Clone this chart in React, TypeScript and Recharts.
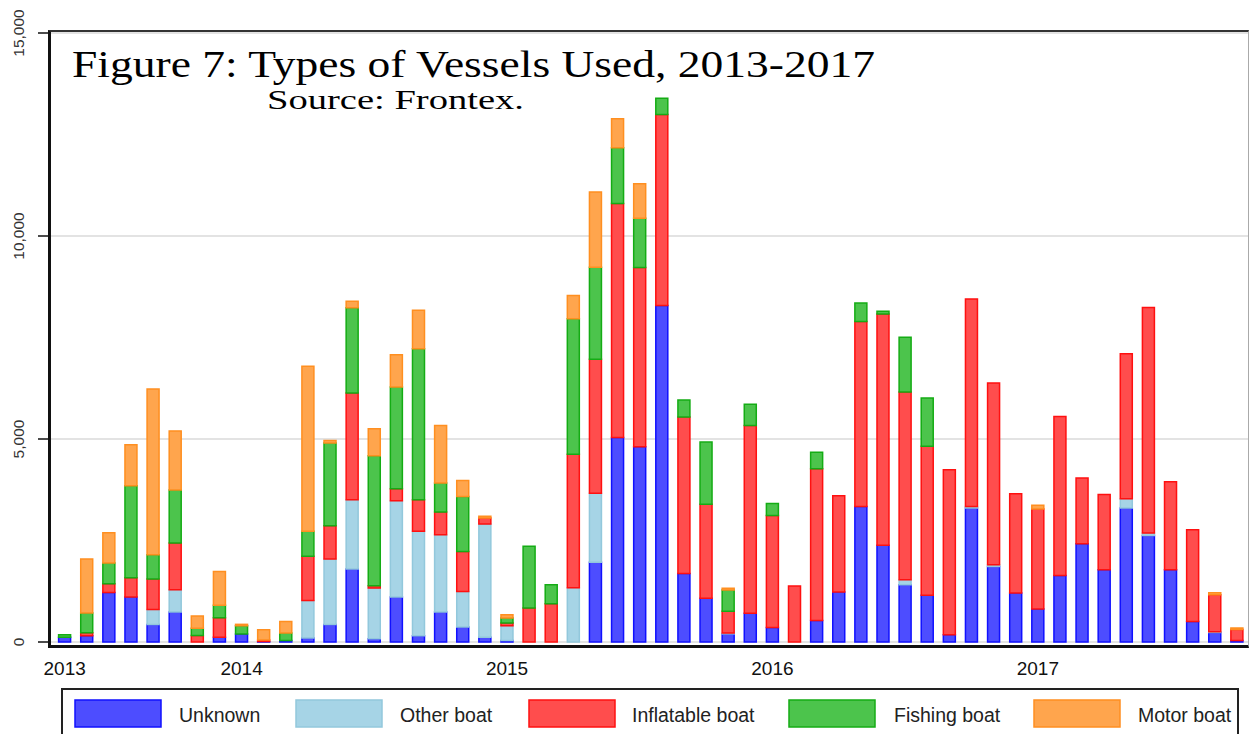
import { BarChart, Bar, XAxis, YAxis, CartesianGrid } from 'recharts'

// monthly observations, May 2013 - Oct 2017
const months = [
  '2013-05', '2013-06', '2013-07', '2013-08', '2013-09', '2013-10', '2013-11', '2013-12',
  '2014-01', '2014-02', '2014-03', '2014-04', '2014-05', '2014-06', '2014-07', '2014-08', '2014-09', '2014-10', '2014-11', '2014-12',
  '2015-01', '2015-02', '2015-03', '2015-04', '2015-05', '2015-06', '2015-07', '2015-08', '2015-09', '2015-10', '2015-11', '2015-12',
  '2016-01', '2016-02', '2016-03', '2016-04', '2016-05', '2016-06', '2016-07', '2016-08', '2016-09', '2016-10', '2016-11', '2016-12',
  '2017-01', '2017-02', '2017-03', '2017-04', '2017-05', '2017-06', '2017-07', '2017-08', '2017-09', '2017-10',
]

const yearLabels: Record<string, string> = {
  '2013-05': '2013',
  '2014-01': '2014',
  '2015-01': '2015',
  '2016-01': '2016',
  '2017-01': '2017',
}

const unknown = [
  120, 155, 1220, 1110, 430, 740, 0, 120,
  200, 10, 40, 100, 430, 1800, 80, 1110, 155, 740, 370, 120,
  40, 0, 0, 0, 1965, 5040, 4810, 8290, 1690, 1075, 200, 710,
  360, 0, 530, 1230, 3340, 2380, 1410, 1150, 180, 3300, 1860, 1205,
  815, 1640, 2420, 1780, 3300, 2625, 1780, 505, 235, 40,
]

const otherBoat = [
  0, 0, 0, 0, 370, 550, 0, 0,
  0, 0, 0, 925, 1615, 1705, 1250, 2370, 2570, 1900, 875, 2785,
  360, 0, 0, 1335, 1700, 0, 0, 0, 0, 0, 20, 0,
  0, 0, 0, 0, 0, 0, 125, 0, 0, 40, 40, 0,
  0, 0, 0, 0, 230, 60, 0, 0, 15, 0,
]

const inflatable = [
  0, 70, 215, 470, 750, 1150, 160, 480,
  0, 40, 0, 1085, 820, 2630, 55, 295, 780, 560, 985, 150,
  70, 840, 940, 3290, 3300, 5760, 4415, 4705, 3850, 2320, 540, 4625,
  2755, 1380, 3735, 2370, 4555, 5700, 4625, 3670, 4065, 5110, 4480, 2445,
  2460, 3915, 1620, 1850, 3570, 5555, 2170, 2260, 915, 265,
]

const fishing = [
  60, 490, 510, 2270, 600, 1305, 180, 305,
  200, 0, 180, 615, 2035, 2095, 3200, 2505, 3720, 715, 1355, 0,
  120, 1520, 470, 3335, 2265, 1375, 1215, 395, 420, 1530, 520, 520,
  295, 0, 410, 0, 455, 65, 1345, 1190, 0, 0, 0, 0,
  0, 0, 0, 0, 0, 0, 0, 0, 0, 0,
]

const motor = [
  0, 1330, 745, 1010, 4080, 1455, 300, 830,
  35, 250, 285, 4065, 60, 160, 665, 795, 945, 1420, 395, 40,
  80, 0, 0, 575, 1855, 715, 845, 0, 0, 0, 45, 0,
  0, 0, 0, 0, 0, 0, 0, 0, 0, 0, 0, 0,
  95, 0, 0, 0, 0, 0, 0, 0, 45, 40,
]

const yTicks = [0, 5000, 10000, 15000]

const seriesKeys = ['unknown', 'other', 'inflatable', 'fishing', 'motor']
const seriesNames = ['Unknown', 'Other boat', 'Inflatable boat', 'Fishing boat', 'Motor boat']

const fills: Record<string, string> = {
  unknown: '#4d4dff',
  other: '#a6d4e6',
  inflatable: '#ff4d4d',
  fishing: '#4cc44c',
  motor: '#ffa54d',
}
const strokes: Record<string, string> = {
  unknown: '#1010ff',
  other: '#92c8dc',
  inflatable: '#ff1010',
  fishing: '#14ac14',
  motor: '#ff8f20',
}

const data = months.map((m, i) => ({
  month: m,
  unknown: unknown[i],
  other: otherBoat[i],
  inflatable: inflatable[i],
  fishing: fishing[i],
  motor: motor[i],
}))

// legend placement (page px)
const legendSwatchX = [75, 296, 529, 789, 1034]
const legendTextX = [179, 400, 632, 894, 1138]

function YearTick(props: any) {
  const { x, payload } = props
  const label = yearLabels[payload.value]
  if (!label) return null
  return (
    <text x={x} y={675} textAnchor="middle" fontFamily="'Liberation Sans', Arial, sans-serif" fontSize={19} fill="#111">
      {label}
    </text>
  )
}

function ValueTick(props: any) {
  const { y, payload } = props
  return (
    <text
      x={24}
      y={y}
      transform={`rotate(-90, 24, ${y})`}
      textAnchor="middle"
      fontFamily="'Liberation Sans', Arial, sans-serif"
      fontSize={15.5}
      fill="#333"
    >
      {payload.value.toLocaleString('en-US')}
    </text>
  )
}

export default function App() {
  return (
    <div style={{ position: 'fixed', left: 0, top: 0, width: 1250, height: 734, overflow: 'hidden', background: '#fff' }}>
      <BarChart
        width={1250}
        height={734}
        data={data}
        margin={{ top: 33, right: 2, bottom: 62, left: 0 }}
        barSize={12}
      >
        <CartesianGrid vertical={false} stroke="#e3e3e3" strokeWidth={2} />
        <XAxis
          dataKey="month"
          interval={0}
          tick={(p: any) => <YearTick {...p} />}
          axisLine={false}
          tickLine={false}
          padding={{ left: 3.6, right: 0 }}
          height={30}
        />
        <YAxis
          domain={[0, 15000]}
          ticks={yTicks}
          width={50}
          tickSize={12}
          tickLine={{ stroke: '#111', strokeWidth: 1.5 }}
          axisLine={false}
          tick={(p: any) => <ValueTick {...p} />}
        />
        {seriesKeys.map((k, i) => (
          <Bar
            key={k}
            dataKey={k}
            name={seriesNames[i]}
            stackId="a"
            fill={fills[k]}
            stroke={strokes[k]}
            strokeWidth={1.5}
            isAnimationActive={false}
          />
        ))}
      </BarChart>

      {/* plot frame */}
      <div
        style={{
          position: 'absolute',
          left: 48,
          top: 30,
          width: 1201,
          height: 618,
          boxSizing: 'border-box',
          borderLeft: '3px solid #111',
          borderTop: '2px solid #333',
          borderBottom: '3px solid #111',
          borderRight: '1px solid #aaa',
          pointerEvents: 'none',
        }}
      />

      <svg width={1250} height={734} style={{ position: 'absolute', left: 0, top: 0, pointerEvents: 'none' }}>
        <text x={72} y={77} fontFamily="'Liberation Serif', serif" fontSize={38} fill="#000" textLength={803} lengthAdjust="spacingAndGlyphs">
          Figure 7: Types of Vessels Used, 2013-2017
        </text>
        <text x={267} y={109} fontFamily="'Liberation Serif', serif" fontSize={28} fill="#000" textLength={257} lengthAdjust="spacingAndGlyphs">
          Source: Frontex.
        </text>

        <rect x={62} y={689} width={1176} height={80} fill="none" stroke="#222" strokeWidth={2} />
        {seriesKeys.map((k, i) => (
          <g key={k}>
            <rect x={legendSwatchX[i]} y={700} width={86} height={27} fill={fills[k]} stroke={strokes[k]} strokeWidth={1.5} />
            <text x={legendTextX[i]} y={722} fontFamily="'Liberation Sans', Arial, sans-serif" fontSize={19.5} fill="#222">
              {seriesNames[i]}
            </text>
          </g>
        ))}
      </svg>
    </div>
  )
}
